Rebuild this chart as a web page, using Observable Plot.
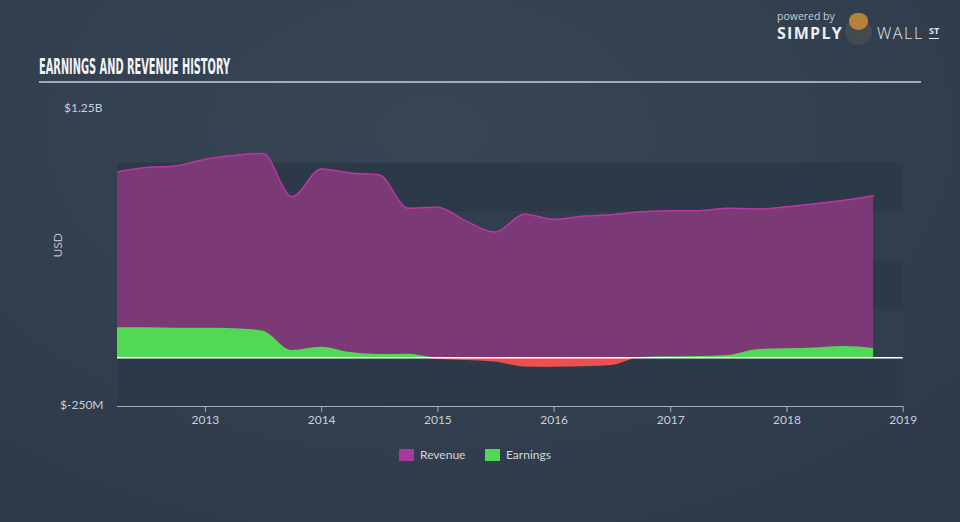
<!DOCTYPE html>
<html>
<head>
<meta charset="utf-8">
<script src="https://cdn.jsdelivr.net/npm/d3@7"></script>
<script src="https://cdn.jsdelivr.net/npm/@observablehq/plot@0.6"></script>
<style>
  html, body { margin: 0; padding: 0; }
  body {
    width: 960px; height: 522px; overflow: hidden;
    background: radial-gradient(ellipse 70% 80% at 45% 25%, #374555 0%, #334050 55%, #2f3b4a 100%);
    font-family: Lato, "Open Sans", sans-serif;
  }
  #wrap { position: relative; width: 960px; height: 522px; }
  #title {
    position: absolute; left: 39px; top: 57px;
    font-family: "Liberation Sans Narrow", "DejaVu Sans Condensed", sans-serif;
    font-weight: bold; font-size: 21px; line-height: 21px; color: #f2f3f5;
    white-space: nowrap; display: inline-block; transform-origin: 0 0;
  }
  #rule { position: absolute; left: 39px; top: 81px; width: 882px; height: 1.5px; background: #a3abb4; }
  .logo { position: absolute; white-space: nowrap; line-height: 1; }
  #powered { left: 777px; top: 11px; font-size: 10.5px; color: #c9ced3; font-family: "Open Sans", sans-serif; }
  #simply { left: 777px; top: 25px; font-size: 16px; font-weight: bold; color: #eceef0; letter-spacing: 1.3px; font-family: "Open Sans", sans-serif; }
  #wall { left: 877px; top: 25px; font-size: 16px; font-weight: 300; color: #e3e6e9; letter-spacing: 1.6px; font-family: "Open Sans", sans-serif; }
  #st { left: 929px; top: 26px; font-size: 9px; font-weight: bold; color: #e3e6e9; border-bottom: 1.5px solid #e3e6e9; padding-bottom: 3px; font-family: "Open Sans", sans-serif; }
  #bull { position: absolute; left: 845px; top: 18px; width: 27px; height: 27px; border-radius: 50%; background: #454a50; }
  #bullhead { position: absolute; left: 849px; top: 13px; width: 19px; height: 17px; border-radius: 45% 45% 50% 50%; background: #b5823a; }
  #chart { position: absolute; left: 0; top: 90px; }
  #legend { position: absolute; top: 449px; left: 0; width: 960px; height: 14px; font-size: 12px; color: #d3d7dc; }
  .sw { position: absolute; top: 0; width: 15px; height: 12px; }
  .lt { position: absolute; top: -1px; line-height: 14px; }
</style>
</head>
<body>
<div id="wrap">
  <div id="title">EARNINGS AND REVENUE HISTORY</div>
  <div id="rule"></div>
  <div id="powered" class="logo">powered by</div>
  <div id="simply" class="logo">SIMPLY</div>
  <div id="bull"></div>
  <div id="bullhead"></div>
  <div id="wall" class="logo">WALL</div>
  <div id="st" class="logo">ST</div>
  <div id="chart"></div>
  <div id="legend"></div>
</div>
<script>
// ---- data ----
const dates = [
  "2012-03-31","2012-06-30","2012-09-30","2012-12-31",
  "2013-03-31","2013-06-30","2013-09-30","2013-12-31",
  "2014-03-31","2014-06-30","2014-09-30","2014-12-31",
  "2015-03-31","2015-06-30","2015-09-30","2015-12-31",
  "2016-03-31","2016-06-30","2016-09-30","2016-12-31",
  "2017-03-31","2017-06-30","2017-09-30","2017-12-31",
  "2018-03-31","2018-06-30","2018-09-30"
];
// USD millions
const revenue = [956, 978, 986, 1020, 1040, 1050, 828, 970, 950, 940, 768, 773,
                 702, 646, 738, 711, 727, 735, 750, 755, 756, 768, 765, 776, 792, 810, 833];
const earnings = [154, 154, 152, 152, 150, 138, 38, 54, 27, 17, 19, -8,
                  -14, -22, -47, -48, -46, -40, 2, 5, 7, 12, 42, 47, 51, 58, 48];
const yearTicks = ["2013","2014","2015","2016","2017","2018","2019"];
const yBands = [-250, 0, 250, 500, 750, 1000];
const yLabels = [1250, -250];
const seriesNames = ["Revenue", "Earnings"];
const seriesColors = ["#a8389d", "#53d856"];

// ---- build ----
const rows = dates.map((d, i) => ({date: new Date(d), revenue: revenue[i], earnings: earnings[i]}));
const xDomain = [new Date(dates[0]), new Date("2019-01-01")];
const ticks = yearTicks.map(y => new Date(y + "-01-01"));
const bands = yBands.slice(0, -1).map((lo, i) => ({lo, hi: yBands[i + 1], c: i % 2 === 0 ? "#2c3948" : "#313e4d"}));
const fmt = v => Math.abs(v) >= 1000 ? `$${v / 1000}B` : `$${v}M`;

const chart = Plot.plot({
  width: 960, height: 350,
  marginLeft: 117, marginRight: 57.3, marginTop: 24, marginBottom: 34,
  style: {background: "transparent", color: "#c8cfd6", fontFamily: "Lato, sans-serif", fontSize: "12px", overflow: "visible"},
  x: {type: "utc", domain: xDomain, axis: null},
  y: {domain: [-250, 1250], axis: null},
  color: {type: "identity"},
  marks: [
    Plot.rect(bands, {x1: () => xDomain[0], x2: () => xDomain[1], y1: "lo", y2: "hi", fill: "c"}),
    Plot.areaY(rows, {x: "date", y: "revenue", fill: "#7b3975", curve: "monotone-x"}),
    Plot.lineY(rows, {x: "date", y: "revenue", stroke: "#b8389f", strokeWidth: 1.5, curve: "monotone-x"}),
    Plot.areaY(rows, {x: "date", y: d => Math.max(0, d.earnings), fill: "#53d856", curve: "monotone-x"}),
    Plot.areaY(rows, {x: "date", y: d => Math.min(0, d.earnings), fill: "#ee5050", curve: "monotone-x"}),
    Plot.ruleY([0], {x1: () => xDomain[0], x2: () => xDomain[1], stroke: "#ffffff", strokeWidth: 1.5}),
    Plot.ruleY([-250], {x1: () => xDomain[0], x2: () => xDomain[1], stroke: "#a6afba", strokeWidth: 1}),
    Plot.axisX({ticks, tickFormat: "%Y", tickSize: 6, tickPadding: 3, stroke: "#a6afba", fill: "#c8cfd6", label: null}),
    Plot.axisY({ticks: [yLabels[0]], tickFormat: fmt, tickSize: 0, tickPadding: 15, dy: -6, fill: "#c8cfd6", label: null}),
    Plot.axisY({ticks: [yLabels[1]], tickFormat: fmt, tickSize: 0, tickPadding: 14, dy: -1, fill: "#c8cfd6", label: null}),
    Plot.text(["USD"], {text: d => d, frameAnchor: "left", rotate: -90, dx: -59, dy: -3, fill: "#b9c0c8", fontSize: 12})
  ]
});
document.getElementById("chart").appendChild(chart);

// legend
const legend = document.getElementById("legend");
const legendX = [399, 485];
seriesNames.forEach((name, i) => {
  const sw = document.createElement("div");
  sw.className = "sw"; sw.style.left = legendX[i] + "px"; sw.style.background = seriesColors[i];
  const lt = document.createElement("div");
  lt.className = "lt"; lt.style.left = (legendX[i] + 21) + "px"; lt.textContent = name;
  legend.appendChild(sw); legend.appendChild(lt);
});

// fit title width
const t = document.getElementById("title");
const w = t.getBoundingClientRect().width;
t.style.transform = `scaleX(${191 / w})`;
</script>
</body>
</html>
